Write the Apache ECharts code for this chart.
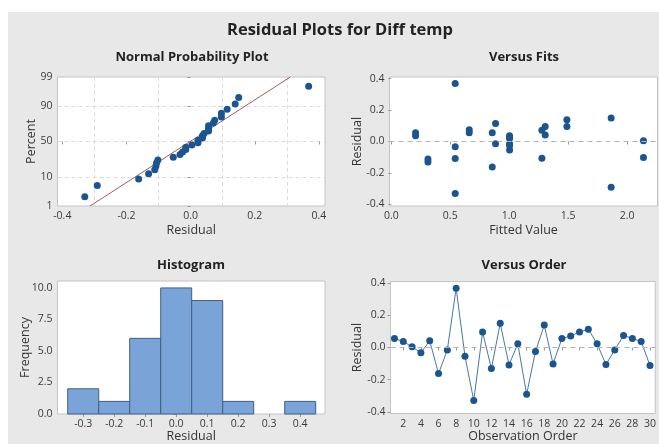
<!DOCTYPE html>
<html>
<head>
<meta charset="utf-8">
<script src="https://cdn.jsdelivr.net/npm/echarts@6/dist/echarts.min.js"></script>
<style>
  html, body { margin: 0; padding: 0; background: #ffffff; }
  #chart { width: 659px; height: 444px; }
</style>
</head>
<body>
<div id="chart"></div>
<script>
// Residuals of the Diff temp model, in observation order
const residuals = [
  0.056, 0.037, 0.004, -0.033, 0.042, -0.162, -0.015, 0.368, -0.054, -0.330,
  0.096, -0.131, 0.150, -0.108, 0.023, -0.291, -0.025, 0.139, -0.102, 0.056,
  0.071, 0.096, 0.114, 0.023, -0.106, -0.015, 0.075, 0.056, 0.037, -0.112
];
// Fitted values, same observation order
const fittedValues = [
  0.206, 0.206, 2.138, 0.542, 1.305, 0.856, 0.884, 0.542, 1.003, 0.542,
  1.305, 0.311, 1.864, 0.542, 1.003, 1.864, 1.003, 1.489, 2.138, 0.856,
  1.277, 1.489, 0.884, 1.003, 1.277, 1.003, 0.661, 0.661, 1.003, 0.311
];
// Normal probability plotting positions (percent) for the ranked residuals
const nppPercent = [
  2.30, 5.59, 8.88, 12.17, 15.46, 18.75, 22.04, 25.33, 28.62, 31.91,
  35.20, 38.49, 41.78, 45.07, 48.36, 51.64, 54.93, 58.22, 61.51, 64.80,
  68.09, 71.38, 74.67, 77.96, 81.25, 84.54, 87.83, 91.12, 94.41, 97.70
];
// Histogram bins (centres) and their frequencies
const binCenters = [-0.3, -0.2, -0.1, 0.0, 0.1, 0.2, 0.3, 0.4];
const binCounts = [2, 1, 6, 10, 9, 1, 0, 1];
const binWidth = 0.1;

// Tick labels
const percentTicks = [1, 10, 50, 90, 99];
const percentGrid = [10, 50, 90];
const residualTicks = [-0.4, -0.2, 0.0, 0.2, 0.4];
const residualGrid = [-0.3, -0.1, 0.1, 0.3];
const fitTicks = [0.0, 0.5, 1.0, 1.5, 2.0];
const freqTicks = [0, 2.5, 5, 7.5, 10];
const histTicks = [-0.3, -0.2, -0.1, 0.0, 0.1, 0.2, 0.3, 0.4];
const orderTicks = [2, 4, 6, 8, 10, 12, 14, 16, 18, 20, 22, 24, 26, 28, 30];

// Inverse standard normal CDF (Acklam's rational approximation)
function probit(p) {
  const a = [-3.969683028665376e+01, 2.209460984245205e+02, -2.759285104469687e+02, 1.383577518672690e+02, -3.066479806614716e+01, 2.506628277459239e+00];
  const b = [-5.447609879822406e+01, 1.615858368580409e+02, -1.556989798598866e+02, 6.680131188771972e+01, -1.328068155288572e+01];
  const c = [-7.784894002430293e-03, -3.223964580411365e-01, -2.400758277161838e+00, -2.549732539343734e+00, 4.374664141464968e+00, 2.938163982698783e+00];
  const d = [7.784695709041462e-03, 3.224671290700398e-01, 2.445134137142996e+00, 3.754408661907416e+00];
  const pl = 0.02425, ph = 1 - pl;
  let q, r;
  if (p < pl) {
    q = Math.sqrt(-2 * Math.log(p));
    return (((((c[0]*q+c[1])*q+c[2])*q+c[3])*q+c[4])*q+c[5]) / ((((d[0]*q+d[1])*q+d[2])*q+d[3])*q+1);
  }
  if (p <= ph) {
    q = p - 0.5; r = q * q;
    return (((((a[0]*r+a[1])*r+a[2])*r+a[3])*r+a[4])*r+a[5])*q / (((((b[0]*r+b[1])*r+b[2])*r+b[3])*r+b[4])*r+1);
  }
  q = Math.sqrt(-2 * Math.log(1 - p));
  return -(((((c[0]*q+c[1])*q+c[2])*q+c[3])*q+c[4])*q+c[5]) / ((((d[0]*q+d[1])*q+d[2])*q+d[3])*q+1);
}
const z = pct => probit(pct / 100);

// Reference normal line from the residuals' mean and standard deviation
const n = residuals.length;
const mean = residuals.reduce((s, v) => s + v, 0) / n;
const sd = Math.sqrt(residuals.reduce((s, v) => s + (v - mean) * (v - mean), 0) / (n - 1));
const sortedRes = residuals.slice().sort((p, q) => p - q);
const nppPoints = sortedRes.map((v, i) => [v, z(nppPercent[i])]);
const zLo = z(percentTicks[0]), zHi = z(percentTicks[percentTicks.length - 1]);
const fitLine = [[mean + sd * zLo, zLo], [mean + sd * zHi, zHi]];

const FONT = 'Open Sans';
const BLUE = '#1b5590';
const tickLabel = { fontFamily: FONT, fontSize: 10.5, color: '#3a3a3a', margin: 5 };
const nameStyle = { fontFamily: FONT, fontSize: 12.5, color: '#333' };
const gridBase = { show: true, backgroundColor: '#ffffff', borderColor: '#c4c4c4', borderWidth: 1 };
const tickStyle = { show: true, length: 3, lineStyle: { color: '#9a9a9a' } };

function axis(gridIndex, min, max, ticks, extra) {
  return Object.assign({
    type: 'value', gridIndex, min, max,
    axisLine: { show: false },
    axisTick: Object.assign({ customValues: ticks }, tickStyle),
    axisLabel: Object.assign({ customValues: ticks }, tickLabel),
    splitLine: { show: false },
    nameLocation: 'middle',
    nameMoveOverlap: false,
    nameTextStyle: nameStyle
  }, extra || {});
}

const fmt1 = v => (Math.abs(v) < 1e-9 ? 0 : v).toFixed(1);

const zeroLine = {
  silent: true, symbol: 'none', label: { show: false },
  lineStyle: { color: '#b4b4b4', type: [5, 4], width: 1 },
  data: [{ yAxis: 0 }]
};

function heading(text, x, y, size) {
  return {
    type: 'text',
    style: { text, x, y, textAlign: 'center', textVerticalAlign: 'middle', font: 'bold ' + size + 'px "Open Sans"', fill: '#222' }
  };
}

const option = {
  backgroundColor: '#ffffff',
  animation: false,
  graphic: [
    { type: 'rect', z: -10, shape: { x: 8, y: 12, width: 651, height: 432 }, style: { fill: '#e8e8e8' } },
    heading('Residual Plots for Diff temp', 340, 30, 16.5),
    heading('Normal Probability Plot', 192, 57, 13),
    heading('Versus Fits', 524, 57, 13),
    heading('Histogram', 191, 265, 13),
    heading('Versus Order', 524, 265, 13)
  ],
  grid: [
    Object.assign({ left: 57.5, top: 77, width: 267.5, height: 129 }, gridBase),
    Object.assign({ left: 389.5, top: 77, width: 268, height: 129 }, gridBase),
    Object.assign({ left: 57.5, top: 281, width: 267.5, height: 133 }, gridBase),
    Object.assign({ left: 390.5, top: 281.5, width: 267, height: 132 }, gridBase)
  ],
  xAxis: [
    axis(0, -0.415, 0.419, residualTicks, { name: 'Residual', nameGap: 18, axisLabel: Object.assign({ customValues: residualTicks, formatter: fmt1 }, tickLabel) }),
    axis(1, -0.015, 2.257, fitTicks, { name: 'Fitted Value', nameGap: 18, axisLabel: Object.assign({ customValues: fitTicks, formatter: fmt1 }, tickLabel) }),
    axis(2, -0.383, 0.48, histTicks, { name: 'Residual', nameGap: 16, axisLabel: Object.assign({ customValues: histTicks, formatter: fmt1 }, tickLabel) }),
    axis(3, 0.55, 30.6, orderTicks, { name: 'Observation Order', nameGap: 16 }),
    // dashed vertical grid of the probability plot
    {
      type: 'value', gridIndex: 0, min: -0.415, max: 0.419, position: 'top',
      axisLine: { show: false }, axisLabel: { show: false },
      axisTick: { show: false, customValues: residualGrid },
      splitLine: { show: true, lineStyle: { color: '#dcdcdc', type: [4, 3] } }
    }
  ],
  yAxis: [
    axis(0, zLo, zHi, percentTicks.map(z), {
      name: 'Percent', nameGap: 20,
      axisLabel: Object.assign({ customValues: percentTicks.map(z), formatter: v => {
        let best = percentTicks[0];
        percentTicks.forEach(p => { if (Math.abs(z(p) - v) < Math.abs(z(best) - v)) best = p; });
        return String(best);
      } }, tickLabel)
    }),
    axis(1, -0.41, 0.41, residualTicks, { name: 'Residual', nameGap: 26, axisLabel: Object.assign({ customValues: residualTicks, formatter: fmt1 }, tickLabel) }),
    axis(2, 0, 10.55, freqTicks, { name: 'Frequency', nameGap: 26, axisLabel: Object.assign({ customValues: freqTicks, formatter: fmt1 }, tickLabel) }),
    axis(3, -0.41, 0.41, residualTicks, { name: 'Residual', nameGap: 27, axisLabel: Object.assign({ customValues: residualTicks, formatter: fmt1 }, tickLabel) }),
    // dashed horizontal grid of the probability plot
    {
      type: 'value', gridIndex: 0, min: zLo, max: zHi, position: 'right',
      axisLine: { show: false }, axisLabel: { show: false },
      axisTick: { show: false, customValues: percentGrid.map(z) },
      splitLine: { show: true, lineStyle: { color: '#dcdcdc', type: [4, 3] } }
    }
  ],
  series: [
    {
      type: 'line', xAxisIndex: 0, yAxisIndex: 0, data: fitLine,
      symbol: 'none', lineStyle: { color: '#a85a5a', width: 1 }, z: 3
    },
    {
      type: 'scatter', xAxisIndex: 0, yAxisIndex: 0, data: nppPoints,
      symbolSize: 7, itemStyle: { color: BLUE, opacity: 1 }, z: 4
    },
    {
      type: 'scatter', xAxisIndex: 1, yAxisIndex: 1,
      data: fittedValues.map((f, i) => [f, residuals[i]]),
      symbolSize: 7, itemStyle: { color: BLUE, opacity: 1 }, markLine: zeroLine, z: 4
    },
    {
      type: 'custom', xAxisIndex: 2, yAxisIndex: 2,
      data: binCenters.map((c, i) => [c, binCounts[i]]),
      renderItem: (params, api) => {
        const c = api.value(0), h = api.value(1);
        if (!h) return null;
        const p0 = api.coord([c - binWidth / 2, h]);
        const p1 = api.coord([c + binWidth / 2, 0]);
        return {
          type: 'rect',
          shape: { x: p0[0], y: p0[1], width: p1[0] - p0[0], height: p1[1] - p0[1] },
          style: { fill: '#7aa4d8', stroke: '#3f5f86', lineWidth: 1 }
        };
      }
    },
    {
      type: 'line', xAxisIndex: 3, yAxisIndex: 3,
      data: residuals.map((r, i) => [i + 1, r]),
      symbol: 'circle', symbolSize: 7,
      itemStyle: { color: BLUE },
      lineStyle: { color: '#4a77a6', width: 1 },
      markLine: zeroLine, z: 4
    }
  ]
};

echarts.init(document.getElementById('chart'), null, { renderer: 'canvas' }).setOption(option);
</script>
</body>
</html>
